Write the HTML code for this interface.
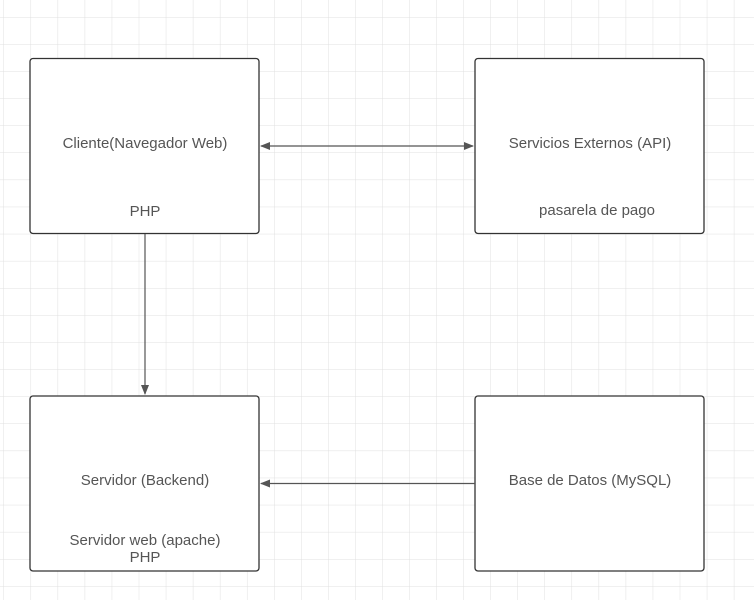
<!DOCTYPE html>
<html><head><style>
body{margin:0;width:754px;height:600px;overflow:hidden;background:#fff;font-family:"Liberation Sans",sans-serif;}
</style></head><body>
<svg width="754" height="600" xmlns="http://www.w3.org/2000/svg">
<defs>
<pattern id="g" x="3.5" y="17" width="27.05" height="27.1" patternUnits="userSpaceOnUse">
<path d="M0 0V27.1M0 0H27.05" stroke="#e0e0e0" stroke-width="1" fill="none"/>
</pattern>
<marker id="a" markerWidth="10" markerHeight="8" refX="9" refY="4" orient="auto" markerUnits="userSpaceOnUse">
<path d="M0 0L10 4L0 8z" fill="#555"/></marker>
<marker id="b" markerWidth="10" markerHeight="8" refX="1" refY="4" orient="auto" markerUnits="userSpaceOnUse">
<path d="M10 0L0 4L10 8z" fill="#555"/></marker>
</defs>
<rect width="754" height="600" fill="url(#g)"/>
<g fill="#fff" stroke="#333" stroke-width="1.3">
<rect x="30" y="58.5" width="229" height="175" rx="3"/>
<rect x="475" y="58.5" width="229" height="175" rx="3"/>
<rect x="30" y="396" width="229" height="175" rx="3"/>
<rect x="475" y="396" width="229" height="175" rx="3"/>
</g>
<g stroke="#555" stroke-width="1.2" fill="none">
<line x1="261" y1="146" x2="473" y2="146" marker-start="url(#b)" marker-end="url(#a)"/>
<line x1="145" y1="234" x2="145" y2="394" marker-end="url(#a)"/>
<line x1="475" y1="483.5" x2="261" y2="483.5" marker-end="url(#a)"/>
</g>
<g fill="#555" font-size="15" text-anchor="middle" font-family="Liberation Sans, sans-serif">
<text x="145" y="148">Cliente(Navegador Web)</text>
<text x="145" y="216">PHP</text>
<text x="590" y="148">Servicios Externos (API)</text>
<text x="597" y="215">pasarela de pago</text>
<text x="145" y="485">Servidor (Backend)</text>
<text x="145" y="545">Servidor web (apache)</text>
<text x="145" y="562">PHP</text>
<text x="590" y="485">Base de Datos (MySQL)</text>
</g>
</svg>
</body></html>
